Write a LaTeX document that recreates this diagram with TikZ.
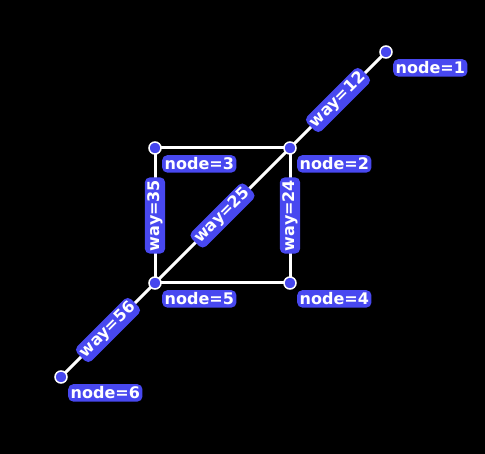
\documentclass[tikz,border=0pt]{standalone}
\usepackage{fontspec}
\setmainfont{DejaVu Sans}
\definecolor{dotblue}{RGB}{70,70,238}
\definecolor{boxblue}{RGB}{72,72,240}
\begin{document}
\begin{tikzpicture}[x=1pt,y=-1pt,
  vtx/.style={circle,fill=dotblue,draw=white,line width=1.5pt,minimum size=12pt,inner sep=0pt},
  lbl/.style={fill=boxblue,text=white,rounded corners=5pt,inner sep=2.5pt,font=\fontsize{16}{18}\selectfont\bfseries,anchor=north west},
  elbl/.style={fill=boxblue,text=white,rounded corners=5pt,inner sep=2.5pt,font=\fontsize{16}{18}\selectfont\bfseries,midway,sloped},
  edge/.style={draw=white,line width=3pt}]
\fill[black] (0,0) rectangle (485,454);
\useasboundingbox (0,0) rectangle (485,454);
\coordinate (p1) at (386,52);
\coordinate (p2) at (290,148);
\coordinate (p3) at (155,148);
\coordinate (p4) at (290,283);
\coordinate (p5) at (155,283);
\coordinate (p6) at (61,377);
\draw[edge] (p3) -- (p2);
\draw[edge] (p5) -- (p4);
\draw[edge] (p2) -- (p1) node[elbl] {way=12};
\draw[edge] (p5) -- (p2) node[elbl] {way=25};
\draw[edge] (p5) -- (p3) node[elbl] {way=35};
\draw[edge] (p4) -- (p2) node[elbl] {way=24};
\draw[edge] (p6) -- (p5) node[elbl] {way=56};
\foreach \i in {1,...,6} {
  \node[vtx] (n\i) at (p\i) {};
  \node[lbl] (l\i) at ([xshift=7pt,yshift=-7pt]p\i) {node=\i};
}
\end{tikzpicture}
\end{document}
